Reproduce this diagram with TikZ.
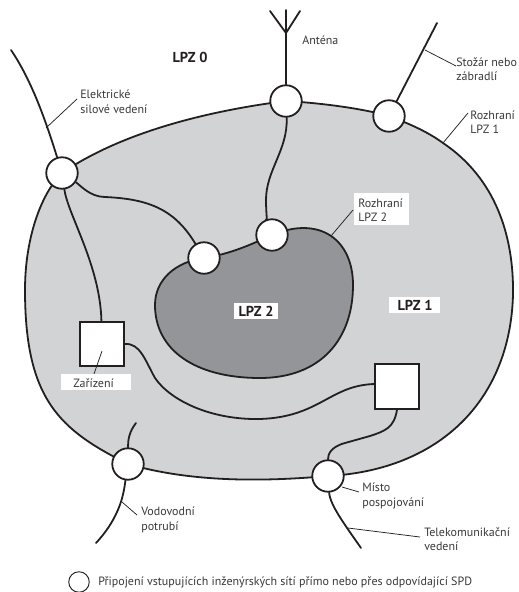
\documentclass[tikz,border=0pt]{standalone}
\usepackage{fontspec}
\setmainfont{PT Sans}
\usetikzlibrary{backgrounds}
\definecolor{ink}{HTML}{231F20}
\definecolor{txt}{HTML}{3A3839}
\definecolor{zoneone}{HTML}{D1D3D4}
\definecolor{zonetwo}{HTML}{939598}
\tikzset{
  port/.style={circle,draw=ink,fill=white,line width=1.35pt,minimum size=23.6pt,inner sep=0pt},
  unit/.style={rectangle,draw=ink,fill=white,line width=1.5pt,minimum width=33pt,minimum height=33.5pt,inner sep=0pt},
  wire/.style={draw=ink,line width=1.35pt,line cap=round,line join=round},
  zone/.style={draw=ink,line width=1.35pt,line join=round},
  leader/.style={draw=ink,line width=0.55pt},
  lab/.style={font=\fontsize{9}{10.9}\selectfont,text=txt,align=left,anchor=west,inner sep=0pt},
  zlabel/.style={font=\fontsize{10.8}{12}\bfseries\selectfont,text=ink,inner sep=0pt},
  patch/.style={fill=white,draw=none,inner sep=0pt}
}
\begin{document}
\begin{tikzpicture}[x=0.75pt,y=-0.75pt]
\useasboundingbox (0,0) rectangle (518,592);
% ports and units
\node[port] (A) at (62,173) {};
\node[port] (B) at (204,258) {};
\node[port] (C) at (272,235) {};
\node[port] (D) at (286,101) {};
\node[port] (E) at (389,116) {};
\node[port] (F) at (128,464) {};
\node[port] (G) at (328,476) {};
\node[unit] (S1) at (102,344) {};
\node[unit] (S2) at (397,386.5) {};
\coordinate (s2in) at (375,384);
\begin{scope}[on background layer]
% zones
\path[zone,fill=zoneone] (A.center) .. controls (125,130) and (215,110) .. (D.center)
  .. controls (320,103) and (360,108) .. (E.center)
  .. controls (410,124) and (428,132) .. (443,143)
  .. controls (495,178) and (514,235) .. (513,295)
  .. controls (510,400) and (440,470) .. (G.center)
  .. controls (260,482) and (190,482) .. (F.center)
  .. controls (60,430) and (25,400) .. (25,290)
  .. controls (25,240) and (40,195) .. (A.center) -- cycle;
\path[zone,fill=zonetwo] (C.center) .. controls (320,215) and (353,240) .. (353,285)
  .. controls (353,340) and (320,378) .. (260,378)
  .. controls (195,378) and (155,350) .. (155,305)
  .. controls (155,280) and (175,262) .. (B.center)
  .. controls (230,254) and (250,245) .. (C.center) -- cycle;
% wires
\draw[wire] (11,50) .. controls (30,78) and (44,115) .. (A);
\draw[wire] (A) .. controls (80,185) and (90,197) .. (105,197)
  .. controls (150,199) and (175,210) .. (B);
\draw[wire] (A) .. controls (68,215) and (100,265) .. (S1);
\coordinate (m1) at (286,33);
\coordinate (m2) at (270,11);
\coordinate (m3) at (300,11);
\coordinate (m4) at (286,10);
\draw[wire] (m2) -- (m1) -- (m3) (m4) -- (D);
\draw[wire] (D) .. controls (288,150) and (266,170) .. (266,200)
  .. controls (266,215) and (268,225) .. (C);
\coordinate (mast) at (437,23);
\draw[wire] (mast) -- (E);
\draw[wire] (S1.east) .. controls (140,343) and (145,360) .. (155,378)
  .. controls (170,400) and (210,420) .. (260,419)
  .. controls (320,417) and (330,385) .. (s2in);
\draw[wire] (S2.south) .. controls (394,428) and (385,431) .. (370,436)
  -- (345,443) .. controls (330,447) and (328,455) .. (G);
\coordinate (f1) at (136,423);
\coordinate (f2) at (96,543);
\draw[wire] (f1) .. controls (129,432) and (128,440) .. (F);
\draw[wire] (F) .. controls (124,490) and (122,515) .. (f2);
\coordinate (g1) at (361,548);
\draw[wire] (G) .. controls (330,505) and (345,525) .. (g1);
\end{scope}
% leaders
\coordinate (l1a) at (46,128); \coordinate (l1b) at (77,99);
\coordinate (l2a) at (425,50); \coordinate (l2b) at (456,66);
\coordinate (l3a) at (443,143); \coordinate (l3b) at (468,113);
\coordinate (l4a) at (331,236); \coordinate (l4b) at (353,210);
\coordinate (l5a) at (102,351); \coordinate (l5b) at (94,374);
\coordinate (l6a) at (122,502); \coordinate (l6b) at (137,515);
\coordinate (l7a) at (342,487); \coordinate (l7b) at (359,492);
\coordinate (l8a) at (348,528); \coordinate (l8b) at (420,537);
\draw[leader] (l1a)--(l1b) (l2a)--(l2b) (l3a)--(l3b) (l4a)--(l4b) (l5a)--(l5b) (l6a)--(l6b) (l7a)--(l7b) (l8a)--(l8b);
% white label patches
\node[patch,minimum width=41.2pt,minimum height=24pt] (p1) at (381.5,209) {};
\node[patch,minimum width=52.5pt,minimum height=12pt] (p2) at (96,382) {};
\node[patch,minimum width=33pt,minimum height=12pt] (p3) at (256,311) {};
\node[patch,minimum width=38.2pt,minimum height=12pt] (p4) at (414.5,305) {};
% labels
\node[zlabel] (z0) at (190,57) {LPZ 0};
\node[zlabel] (z2) at (256,311) {LPZ 2};
\node[zlabel] (z1) at (415,305) {LPZ 1};
\node[lab] (t1) at (80,102) {Elektrické\\silové vedení};
\node[lab] (t2) at (302,40) {Anténa};
\node[lab] (t3) at (456,69) {Stožár nebo\\zábradlí};
\node[lab] (t4) at (470,122) {Rozhraní\\LPZ 1};
\node[lab] (t5) at (358,210) {Rozhraní\\LPZ 2};
\node[lab] (t6) at (73,383) {Zařízení};
\node[lab] (t7) at (141,520) {Vodovodní\\potrubí};
\node[lab] (t8) at (362,496) {Místo\\pospojování};
\node[lab] (t9) at (424,539) {Telekomunikační\\vedení};
\node[circle,draw=ink,line width=0.7pt,minimum size=15.4pt,inner sep=0pt] (key) at (79,582) {};
\node[lab] (t10) at (98,582) {Připojení vstupujících inženýrských sítí přímo nebo přes odpovídající SPD};
\end{tikzpicture}
\end{document}
